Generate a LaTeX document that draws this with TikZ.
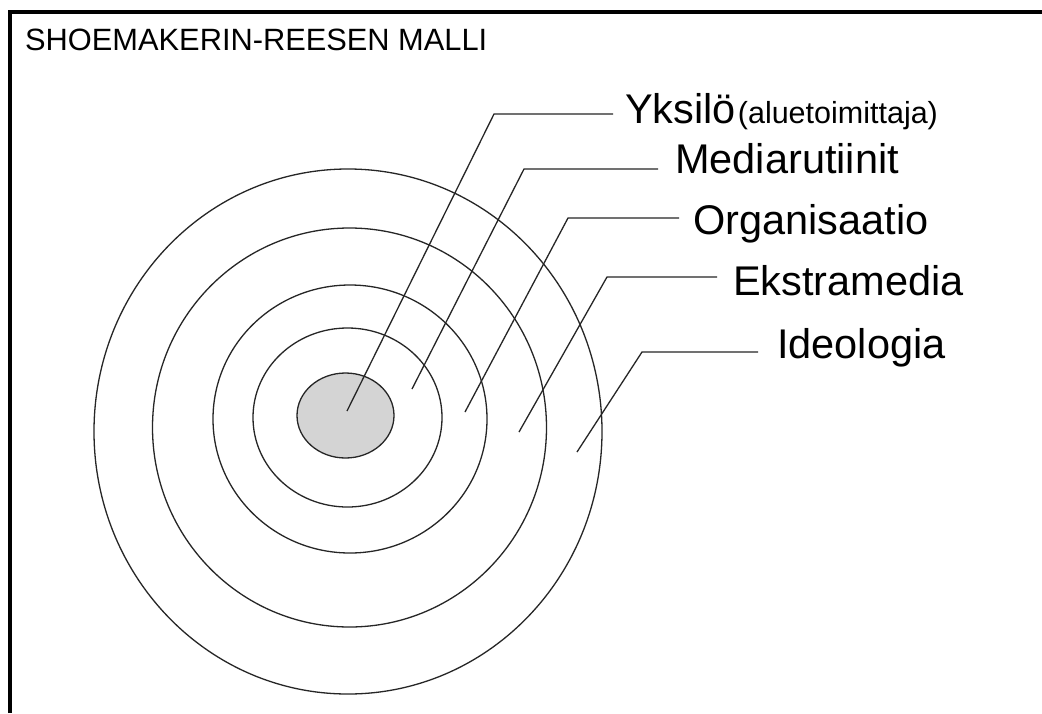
\documentclass[tikz,border=0pt]{standalone}
\usepackage{fontspec}
\setmainfont{Liberation Sans}
\definecolor{corefill}{RGB}{212,212,212}
\begin{document}
\begin{tikzpicture}[x=1pt,y=-1pt,
  ring/.style={draw=black!85,line width=1.3pt},
  leader/.style={draw=black!85,line width=1.3pt},
  lab/.style={anchor=base west,inner sep=0pt,font=\fontsize{41.5}{41.5}\selectfont},
  frameline/.style={draw=black,line width=4pt,line join=miter},
]
\useasboundingbox (0,0) rectangle (1042,713);
\fill[white] (0,0) rectangle (1042,713);
\draw[frameline] (9.5,713) -- (9.5,11.7) -- (1042,11.7);
\node[anchor=base west,inner sep=0pt,font=\fontsize{30.8}{30.8}\selectfont] (title) at (25,50) {SHOEMAKERIN-REESEN MALLI};
% rings
\draw[ring] (348,431.5) ellipse [x radius=254pt, y radius=262.5pt];
\draw[ring] (349.5,427.5) ellipse [x radius=197pt, y radius=199.5pt];
\draw[ring] (350,419) ellipse [x radius=137pt, y radius=134pt];
\draw[ring] (347.5,417.5) ellipse [x radius=94.5pt, y radius=89.5pt];
\draw[ring,fill=corefill] (345.5,415.5) ellipse [x radius=48.5pt, y radius=42.5pt];
% labels
\node[lab] (yks) at (625,123) {Yksilö\kern2pt{\fontsize{30.5}{30.5}\selectfont(aluetoimittaja)}};
\node[lab] (med) at (675,173) {Mediarutiinit};
\node[lab] (org) at (693,234) {Organisaatio};
\node[lab] (eks) at (733,295) {Ekstramedia};
\node[lab] (ideo) at (777,358) {Ideologia};
% leader points
\coordinate (yksA) at (347,411);  \coordinate (yksB) at (494,114);  \coordinate (yksC) at (613,114);
\coordinate (medA) at (412,389);  \coordinate (medB) at (524,169);  \coordinate (medC) at (658,169);
\coordinate (orgA) at (465,412);  \coordinate (orgB) at (568,218);  \coordinate (orgC) at (679,218);
\coordinate (eksA) at (519,432);  \coordinate (eksB) at (607,277);  \coordinate (eksC) at (717,277);
\coordinate (ideoA) at (577,452); \coordinate (ideoB) at (642,352); \coordinate (ideoC) at (758,352);
\draw[leader] (yksA) -- (yksB) -- (yksC);
\draw[leader] (medA) -- (medB) -- (medC);
\draw[leader] (orgA) -- (orgB) -- (orgC);
\draw[leader] (eksA) -- (eksB) -- (eksC);
\draw[leader] (ideoA) -- (ideoB) -- (ideoC);
\end{tikzpicture}
\end{document}
